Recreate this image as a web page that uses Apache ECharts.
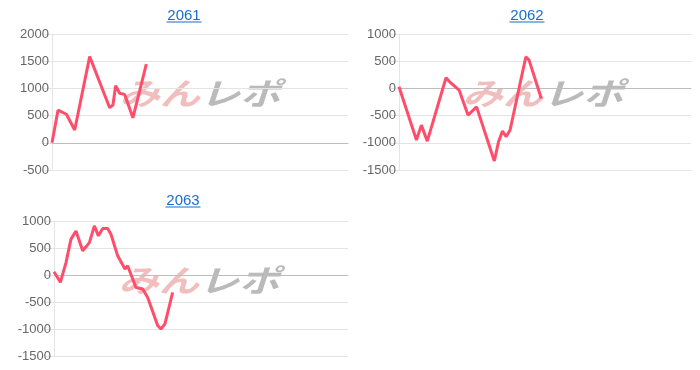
<!DOCTYPE html>
<html><head><meta charset="utf-8">
<script src="https://cdn.jsdelivr.net/npm/echarts@6/dist/echarts.min.js"></script>
<style>html,body{margin:0;padding:0;background:#fff}#c{width:700px;height:370px}</style>
</head><body><div id="c"></div>
<script>
const titles = ['2061', '2062', '2063'];
const yTicks = [
  [-500, 0, 500, 1000, 1500, 2000],
  [-1500, -1000, -500, 0, 500, 1000],
  [-1500, -1000, -500, 0, 500, 1000]
];
const xMax = 8000;
// game count
const games2061 = [0, 162, 389, 613, 1018, 1558, 1647, 1720, 1828, 1963, 2187, 2549];
const diff2061  = [0, 600, 525, 235, 1585, 645, 695, 1050, 910, 890, 460, 1445];
const games2062 = [0, 478, 613, 775, 1288, 1404, 1647, 1890, 2125, 2611, 2727, 2835, 2935, 3043, 3475, 3564, 3899];
const diff2062  = [30, -950, -675, -970, 195, 110, -30, -490, -340, -1335, -980, -785, -890, -765, 580, 520, -185];
const games2063 = [0, 174, 326, 462, 598, 781, 963, 1099, 1208, 1325, 1461, 1550, 1733, 1931, 2005, 2230, 2413, 2549, 2821, 2910, 3019, 3229];
const diff2063  = [60, -135, 230, 665, 815, 450, 600, 910, 725, 860, 860, 755, 355, 110, 170, -230, -260, -415, -935, -1000, -905, -320];

const games = [games2061, games2062, games2063];
const diffs = [diff2061, diff2062, diff2063];

const grids = [
  {left: 52, top: 34, width: 296, height: 136},
  {left: 399, top: 34, width: 292, height: 136},
  {left: 54, top: 221, width: 294, height: 135}
];
const titlePos = [[184, 15.5, 21.5], [527, 15.5, 21.5], [183, 200.5, 206.5]];
const wmPos = [[200, 93], [543, 93], [199, 280]];
const lineColor = '#ff4d6b';
const linkColor = '#1a6dd0';

const chart = echarts.init(document.getElementById('c'), null, {renderer: 'canvas'});
const graphics = [];
titles.forEach((t, i) => {
  graphics.push({
    type: 'text', z: 10, x: titlePos[i][0], y: titlePos[i][1],
    style: {text: t, align: 'center', verticalAlign: 'middle', fill: linkColor, fontSize: 15,
      fontFamily: 'Liberation Sans, Arial, sans-serif'}
  });
  graphics.push({
    type: 'rect', z: 10,
    shape: {x: titlePos[i][0] - 17.5, y: titlePos[i][2], width: 35, height: 1},
    style: {fill: linkColor}
  });
});
wmPos.forEach(p => graphics.push({
  type: 'text', z: 0, x: p[0], y: p[1], scaleX: 1.3,
  style: {
    text: '{a|みん}{b|レポ}', align: 'center', verticalAlign: 'middle',
    rich: {
      a: {fill: 'rgba(225,110,110,0.45)', fontSize: 31, fontWeight: 'bold', fontStyle: 'italic', fontFamily: 'Noto Sans CJK JP'},
      b: {fill: 'rgba(140,140,140,0.6)', fontSize: 31, fontWeight: 'bold', fontStyle: 'italic', fontFamily: 'Noto Sans CJK JP'}
    }
  }
}));

const option = {
  animation: false,
  grid: grids.map(g => Object.assign({containLabel: false}, g)),
  xAxis: grids.map((g, i) => ({
    type: 'value', gridIndex: i, min: 0, max: xMax,
    axisLabel: {show: false}, axisTick: {show: false}, splitLine: {show: false},
    axisLine: {show: true, onZero: true, lineStyle: {color: '#bdbdbd', width: 1}}
  })),
  yAxis: yTicks.map((t, i) => ({
    type: 'value', gridIndex: i, min: t[0], max: t[t.length - 1], interval: 500,
    axisLine: {show: true, lineStyle: {color: '#e4e4e4'}},
    axisTick: {show: true, length: 8, lineStyle: {color: '#e4e4e4'}},
    axisLabel: {color: '#666', fontSize: 13, margin: 3, formatter: v => String(v),
      fontFamily: 'Liberation Sans, Arial, sans-serif'},
    splitLine: {show: true, lineStyle: {color: '#e4e4e4'}}
  })),
  graphic: graphics,
  series: diffs.map((d, i) => ({
    type: 'line', xAxisIndex: i, yAxisIndex: i, z: 5,
    data: d.map((v, k) => [games[i][k], v]),
    showSymbol: false, symbol: 'none',
    lineStyle: {color: lineColor, width: 3}
  }))
};
chart.setOption(option);
</script></body></html>
